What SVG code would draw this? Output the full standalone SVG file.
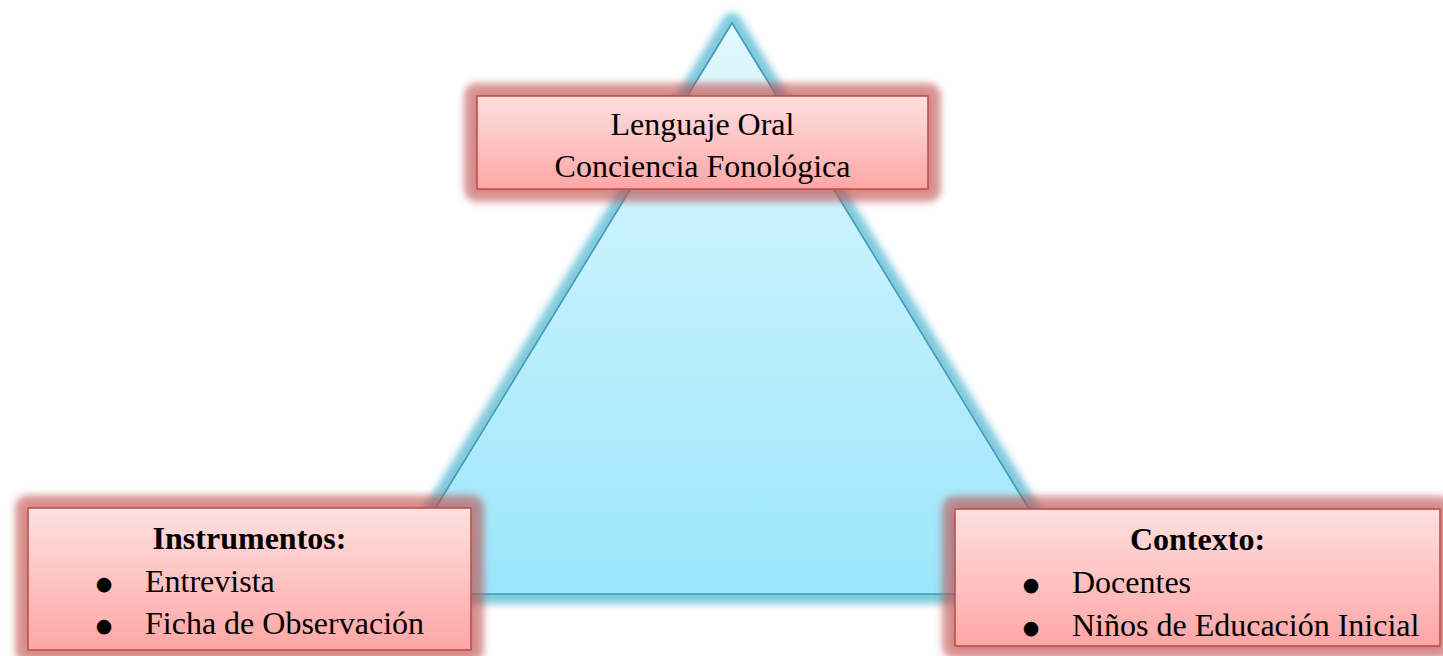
<svg xmlns="http://www.w3.org/2000/svg" width="1443" height="656" viewBox="0 0 1443 656">
<style>
.box{fill:url(#gBox);stroke:#c0504d;stroke-width:1.6}
.glowR{fill:#c0504d;fill-opacity:0.6;stroke:#c0504d;stroke-opacity:0.6;stroke-width:26;stroke-linejoin:round;filter:url(#blur)}
.t{font-family:"Liberation Serif","Times New Roman",serif;font-size:32px;fill:#000}
.b{font-weight:bold}
.bul{font-family:"DejaVu Sans",sans-serif;font-size:19px;fill:#000}
</style>
<defs>
<linearGradient id="gBox" x1="0" y1="0" x2="0" y2="1">
<stop offset="0" stop-color="#ffe0e0"/>
<stop offset="1" stop-color="#ffa6a6"/>
</linearGradient>
<linearGradient id="gTri" x1="0" y1="23" x2="0" y2="594" gradientUnits="userSpaceOnUse">
<stop offset="0" stop-color="#e2f8ff"/>
<stop offset="1" stop-color="#9ae6fa"/>
</linearGradient>
<filter id="blur" x="-20%" y="-40%" width="140%" height="180%">
<feGaussianBlur stdDeviation="3.5"/>
</filter>
</defs>
<rect width="1443" height="656" fill="#ffffff"/>
<g id="triangle">
<polygon points="732,23 383,594 1081,594" fill="none" stroke="#4bb3d0" stroke-opacity="0.7" stroke-width="20" stroke-linejoin="round" filter="url(#blur)"/>
<polygon points="732,23 383,594 1081,594" fill="url(#gTri)" stroke="#3f9ab5" stroke-width="1.6"/>
</g>
<g id="connectors"></g>
<g id="node-top">
<rect class="glowR" x="477" y="96" width="451" height="93"/>
<rect class="box" x="477" y="96" width="451" height="93"/>
<text class="t" x="702.5" y="135" text-anchor="middle">Lenguaje Oral</text>
<text class="t" x="702.5" y="177" text-anchor="middle">Conciencia Fonológica</text>
</g>
<g id="node-instrumentos">
<rect class="glowR" x="28" y="508" width="443" height="142"/>
<rect class="box" x="28" y="508" width="443" height="142"/>
<text class="t b" x="249.5" y="549" text-anchor="middle">Instrumentos:</text>
<text class="bul" x="104" y="590" text-anchor="middle">●</text>
<text class="t" x="145" y="592">Entrevista</text>
<text class="bul" x="104" y="632" text-anchor="middle">●</text>
<text class="t" x="145" y="634">Ficha de Observación</text>
</g>
<g id="node-contexto">
<rect class="glowR" x="955" y="509" width="485" height="137"/>
<rect class="box" x="955" y="509" width="485" height="137"/>
<text class="t b" x="1197.5" y="550" text-anchor="middle">Contexto:</text>
<text class="bul" x="1031" y="591" text-anchor="middle">●</text>
<text class="t" x="1072" y="593">Docentes</text>
<text class="bul" x="1031" y="634" text-anchor="middle">●</text>
<text class="t" x="1072" y="636">Niños de Educación Inicial</text>
</g>
</svg>
